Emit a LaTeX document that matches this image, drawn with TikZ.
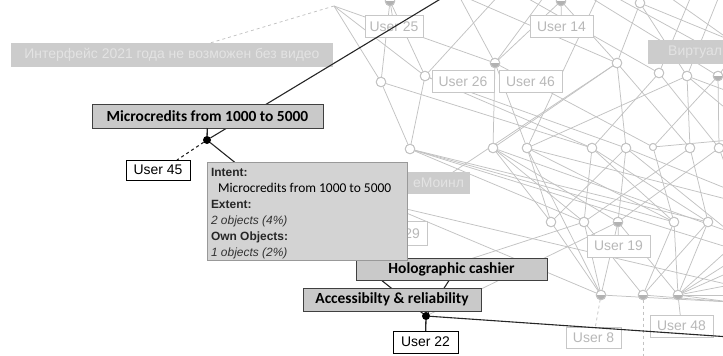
\documentclass[tikz,border=0pt]{standalone}
\usepackage{fontspec}
\setmainfont{Liberation Sans}
\newfontfamily\calib{Carlito}
\definecolor{edgec}{HTML}{C2C2C2}
\definecolor{boxg}{HTML}{C9C9C9}
\definecolor{tipg}{HTML}{D3D3D3}
\begin{document}
\begin{tikzpicture}[x=1bp,y=-1bp,
  every node/.style={inner sep=0pt,outer sep=0pt},
  lat/.style={circle,draw=edgec,fill=white,line width=0.9bp,minimum size=9.5bp},
  own/.style={lat,path picture={\fill[black!30] (path picture bounding box.west) rectangle (path picture bounding box.south east);}},
  ln/.style={draw=edgec,line width=0.75bp},
  dk/.style={draw=black!85,line width=1.1bp},
  fuser/.style={draw=black!22,fill=white,text=black!28,font=\fontsize{14}{16}\selectfont,minimum height=22bp,line width=0.8bp},
  fattr/.style={fill=black!20,text=black!11,font=\fontsize{14}{16}\selectfont,minimum height=24bp},
  attr/.style={draw=black!75,fill=boxg,font=\calib\bfseries\fontsize{15.5}{18}\selectfont,line width=1bp,minimum height=23bp},
  ubox/.style={draw=black,fill=white,font=\fontsize{14}{16}\selectfont,minimum height=21bp,line width=0.9bp},
  tipb/.style={font=\bfseries\fontsize{12}{14}\selectfont,anchor=base west,text=black!85},
  tipi/.style={font=\itshape\fontsize{12}{14}\selectfont,anchor=base west,text=black!80},
]
\useasboundingbox (0,0) rectangle (723,355);
\clip (0,0) rectangle (723,355);
% ---------- lattice coordinates ----------
\coordinate (T1) at (334,6);
\coordinate (T3) at (452,-8);
\coordinate (T8) at (458,-6);
\coordinate (T9) at (500,-6);
\coordinate (T6) at (600,-8);
\coordinate (T10) at (546,-6);
\coordinate (T11) at (520,-6);
\coordinate (T12) at (585,-6);
\coordinate (T13) at (692,-6);
\coordinate (T14) at (610,-6);
\coordinate (T15) at (665,-6);
\coordinate (T16) at (720,-6);
\coordinate (R1) at (730,92);
\coordinate (R2) at (730,112);
\coordinate (R3) at (730,40);
\coordinate (R4) at (730,178);
\coordinate (R5) at (730,200);
\coordinate (R6) at (730,232);
\coordinate (R7) at (730,272);
\coordinate (R8) at (730,302);
\coordinate (R9) at (730,248);
\coordinate (R10) at (730,60);
\coordinate (R11) at (730,262);
\coordinate (R12) at (730,285);
\coordinate (R13) at (730,295);
\coordinate (R14) at (730,140);
\coordinate (R15) at (730,190);
\coordinate (H1) at (385,204);
\coordinate (E) at (432,186);
\coordinate (hc) at (461,262);
\coordinate (D8) at (643,362);
\node[own] (T2) at (390,1) {};
\node[own] (T4) at (561,1) {};
\node[lat] (T5) at (640,3) {};
\node[lat] (b1) at (381,82) {};
\node[lat] (b2) at (425,76) {};
\node[own] (b3) at (495,63) {};
\node[lat] (b4) at (617,63) {};
\node[lat] (b5) at (659,73) {};
\node[lat] (b6) at (687,76) {};
\node[own] (b7) at (718,76) {};
\node[lat] (c1) at (410,149) {};
\node[lat] (c2) at (493,148) {};
\node[lat] (c3) at (527,148) {};
\node[lat] (c4) at (592,148) {};
\node[lat] (c5) at (626,148) {};
\node[lat,minimum size=7bp] (c6) at (653,147) {};
\node[lat] (c7) at (690,148) {};
\node[lat] (c8) at (719,148) {};
\node[lat] (d1) at (551,222) {};
\node[lat] (d2) at (584,222) {};
\node[own] (d3) at (618,222) {};
\node[lat] (d4) at (674,222) {};
\node[lat] (d5) at (708,222) {};
\node[own] (e1) at (601,295) {};
\node[own] (e2) at (643,295) {};
\node[own] (e3) at (678,295) {};
\coordinate (a0) at (426,316);
% ---------- faint edges ----------
\foreach \p/\q in {T1/b1,T1/b2,T1/b3,T2/b1,T2/b2,T8/b3,T8/b4,T9/b2,T4/b3,T4/b4,T6/c3,T5/b4,b3/T10,
  T11/b5,T12/b7,T5/b6,T13/b5,T14/R10,T15/R3,T16/b6,T5/R3,
  b1/c1,b2/c1,b1/c4,b2/c5,b3/c2,b3/c3,b4/c2,b4/c5,b5/c4,b5/c8,b6/c7,b6/c3,b7/c8,b7/c6,b4/c7,b6/R1,b6/R2,b7/R10,b2/c4,b3/c6,
  c1/d2,c1/d4,c1/d5,c2/d1,c2/d2,c2/d3,c3/d1,c3/d4,c3/e1,c4/d2,c4/d4,c4/d5,c5/d1,c5/d3,c6/d4,c6/R14,c7/d2,c7/d5,c8/d3,c8/R4,c2/R6,c3/R5,c1/R9,c5/R15,
  E/b4,H1/e1,H1/R12,a0/d3,
  d1/e1,d2/e2,d2/e1,d4/e2,d4/e3,d3/e3,d3/e1,d5/e3,d5/e2,e3/R9,e3/R11,e3/R7,e3/R12,e3/R13,e3/R8,e1/R8,e2/R8,hc/d2,c5/R6}
  {\draw[ln] (\p) -- (\q);}
% re-draw lattice nodes on top
\foreach \n in {b1,b2,b4,b5,b6,c1,c2,c3,c4,c5,c7,c8,d1,d2,d4,d5,T5}
  {\node[lat] at (\n) {};}
\node[lat,minimum size=7bp] at (c6) {};
\foreach \n in {T2,T4,b3,b7,d3,e1,e2,e3}
  {\node[own] at (\n) {};}
% ---------- faint labels ----------
\node[fattr,minimum width=322bp] (lint) at (172,55) {Интерфейс 2021 года не возможен без видео};
\node[fattr,minimum width=120bp,anchor=west] (lvirt) at (648,51.5) {\hspace{7bp}Виртуальный\hfill};
\node[fattr,minimum width=63bp,minimum height=22bp] (lemo) at (438.5,183) {еМоинл};
\node[fuser,minimum width=58bp] (u25) at (394,26.5) {User 25};
\node[fuser,minimum width=63bp] (u14) at (561.5,26.5) {User 14};
\node[fuser,minimum width=62bp] (u26) at (463,81.5) {User 26};
\node[fuser,minimum width=63bp] (u46) at (530.5,81.5) {User 46};
\node[fuser,minimum width=63bp] (u19) at (618.5,246) {User 19};
\node[fuser,minimum width=55bp,minimum height=21bp] (u8) at (593.5,337.5) {User 8};
\node[fuser,minimum width=63bp] (u48) at (681.5,326) {User 48};
\node[fuser,minimum width=63bp,minimum height=24bp] (u29) at (395.5,233.5) {User 29};
\draw[ln] (T2) -- (u25);
\draw[ln] (T4) -- (u14);
\draw[ln] (d3) -- (u19);
\draw[ln] (e3) -- (u48);
\draw[ln,dashed] (e1) -- (u8);
\draw[ln,dashed] (e2) -- (D8);
\draw[ln,dashed] (T1) -- (lint.north -| 210,0);
% ---------- dark path ----------
\node[circle,fill=black,minimum size=8bp] (m) at (207,140) {};
\node[circle,fill=black,minimum size=8bp] (a) at (a0) {};
\coordinate (rgt) at (730,337);
\draw[dk] (m) -- (T3);
\draw[dk] (m) -- (a);
\draw[dk] (a) -- (hc);
\draw[dk] (a) -- (rgt);
\draw[dk,dashed] (m) -- (177,160);
% ---------- dark labels ----------
\node[attr,minimum width=231bp,minimum height=24bp] (micro) at (207.5,116) {Microcredits from 1000 to 5000};
\node[ubox,minimum width=64bp,minimum height=20bp] (u45) at (158,170) {User 45};
\node[attr,minimum width=191bp,minimum height=22bp] (holo) at (451.5,269) {Holographic cashier};
\node[attr,minimum width=178bp] (acc) at (392,299.5) {Accessibilty \& reliability};
\node[ubox,minimum width=65bp,minimum height=22bp] (u22) at (425.5,342) {User 22};
\draw[dk,line width=1.3bp] (a) -- (u22);
\draw[dk,line width=1.3bp] (m) -- (micro);
% ---------- tooltip ----------
\node[draw=black!40,fill=tipg,line width=1bp,minimum width=200bp,minimum height=98bp,anchor=north west] (tip) at (207,162) {};
\node[tipb] (t1) at (211,176.5) {Intent:};
\node[font=\calib\fontsize{13.5}{16}\selectfont,anchor=base west] (t2) at (218,192) {Microcredits from 1000 to 5000};
\node[tipb] (t3) at (211,208) {Extent:};
\node[tipi] (t4) at (211,224) {2 objects (4\%)};
\node[tipb] (t5) at (211,240) {Own Objects:};
\node[tipi] (t6) at (211,256) {1 objects (2\%)};
\end{tikzpicture}
\end{document}
